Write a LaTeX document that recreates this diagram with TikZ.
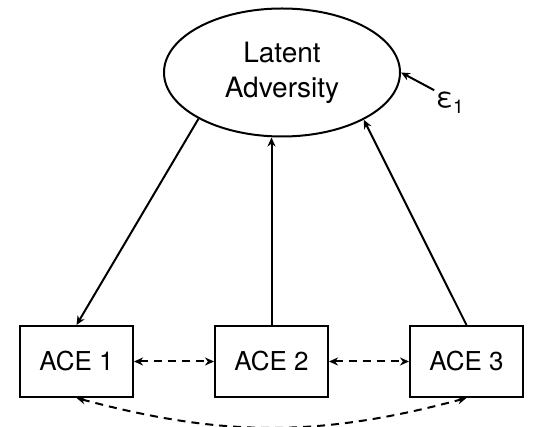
\documentclass[tikz,border=0pt]{standalone}
\usepackage{fontspec}
\setmainfont{TeX Gyre Heros}
\usetikzlibrary{shapes.geometric, positioning, arrows.meta}

\begin{document}
\begin{tikzpicture}[x=1pt, y=-1pt, line width=2pt,
    >={Stealth[length=9pt, width=8pt]}]
        % Styles
        \tikzstyle{latentvar} = [ellipse, draw=black, minimum width=236pt,
        minimum height=128pt, align=center, inner sep=0pt,
        font=\fontsize{28}{35}\selectfont]
        \tikzstyle{observed} = [rectangle, draw=black, minimum width=113pt,
        minimum height=71pt, font=\fontsize{26}{30}\selectfont]
        \tikzstyle{covar} = [<->, dash pattern=on 8pt off 6pt]

        \useasboundingbox (0,0) rectangle (547,427);

        % Nodes
        \node (latent) [latentvar] at (282,72.5) {Latent \\ Adversity};
        \node (ace1) [observed] at (76.5,361.5) {ACE 1};
        \node (ace2) [observed, right=80pt of ace1] {ACE 2};
        \node (ace3) [observed, right=80pt of ace2] {ACE 3};
        \node (eps) [inner sep=1pt, font=\fontsize{28}{30}\selectfont]
        at (450,103) {ε\raisebox{-6pt}{\fontsize{19}{20}\selectfont 1}};

        % Arrows
        \draw[->] (latent.209) -- (ace1.north);
        \draw[->] (ace2.north) -- (ace2.north |- latent.south);
        \draw[->] (ace3.north) -- (latent.330);
        \draw[->] (eps.north west) -- (latent.east);
        \draw[covar] (ace1.east) -- (ace2.west);
        \draw[covar] (ace2.east) -- (ace3.west);
        \draw[covar] (ace1.south) to[bend right=15] (ace3.south);
    \end{tikzpicture}
\end{document}
